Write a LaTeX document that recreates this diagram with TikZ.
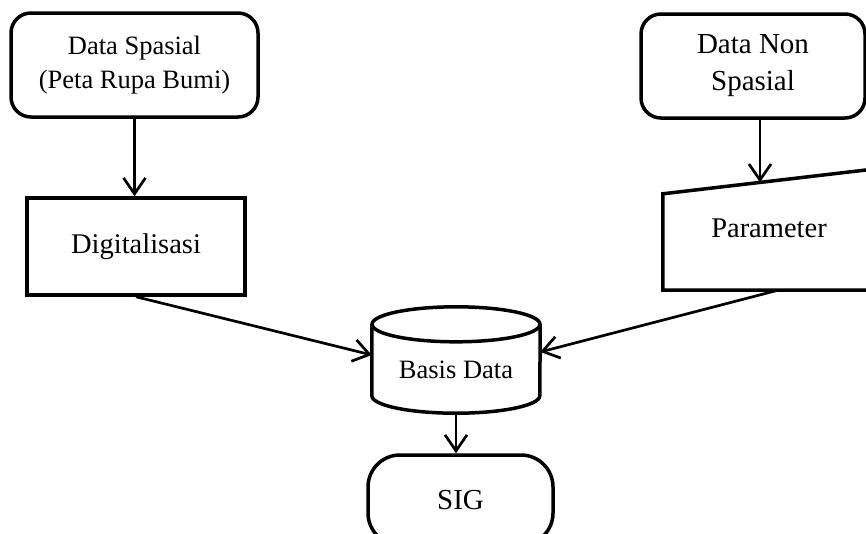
\documentclass[tikz,border=0pt]{standalone}
\usepackage{fontspec}
\setmainfont{Liberation Serif}
\usetikzlibrary{arrows.meta,calc}
\begin{document}
\begin{tikzpicture}[x=1pt,y=-1pt,
  box/.style={draw, line width=3.5pt, align=center, inner sep=0pt},
  shapeline/.style={line width=3.5pt, line join=miter},
  flow/.style={line width=2.7pt,
    -{Straight Barb[length=16pt,width=22pt,line width=2.7pt]}},
  txtA/.style={font=\fontsize{26.5}{34}\selectfont},
  txtB/.style={font=\fontsize{28.5}{34}\selectfont}]
\useasboundingbox (0,0) rectangle (866,533);
\clip (0,0) rectangle (866,533);

% input sources
\node (ds) [box, txtA, rounded corners=20pt, minimum width=247pt, minimum height=104pt]
  at (134.5,65) {Data Spasial\\(Peta Rupa Bumi)};
\node (dns) [box, rounded corners=20pt, minimum width=224pt, minimum height=104pt,
  font=\fontsize{29}{37}\selectfont] at (753,66) {Data Non\\Spasial};

% process boxes
\node (dig) [box, txtB, minimum width=218pt, minimum height=97pt] at (136,246.5) {Digitalisasi};

% manual input shape (slanted top edge)
\node (par) [minimum width=230pt, minimum height=123pt, inner sep=0pt] at (778,228.5) {};
\coordinate (pnw) at ($(par.north west)+(0,27)$);
\draw[shapeline] (pnw) -- (par.north east) -- (par.south east) -- (par.south west) -- cycle;
\node (partxt) [txtB] at (769,228) {Parameter};
\coordinate (ptop) at ($(pnw)!0.4217!(par.north east)$);

% database cylinder
\node (db) [minimum width=168pt, minimum height=106pt, inner sep=0pt] at (456,360) {};
\draw[shapeline] ($(db.north)+(0,17.5)$) ellipse [x radius=84pt, y radius=17.5pt];
\draw[shapeline] ($(db.north west)+(0,17.5)$) -- ($(db.south west)+(0,-17.5)$)
  arc [start angle=180, end angle=360, x radius=84pt, y radius=17.5pt]
  -- ($(db.north east)+(0,17.5)$);
\node (dbtxt) [txtA] at ($(db.center)+(0,10)$) {Basis Data};

% terminator
\node (sig) [box, rounded corners=32pt, minimum width=185pt, minimum height=90pt,
  font=\fontsize{29}{34}\selectfont] at (460.5,500) {SIG};

% connectors
\draw[flow] (ds.south) -- (ds.south |- dig.north);
\draw[flow] (dns.south -| ptop) -- (ptop);
\draw[flow] (dig.south) -- ([yshift=5pt]db.west);
\draw[flow] (par.south) -- ([yshift=8pt]db.east);
\draw[flow] (db.south) -- (db.south |- sig.north);
\end{tikzpicture}
\end{document}
